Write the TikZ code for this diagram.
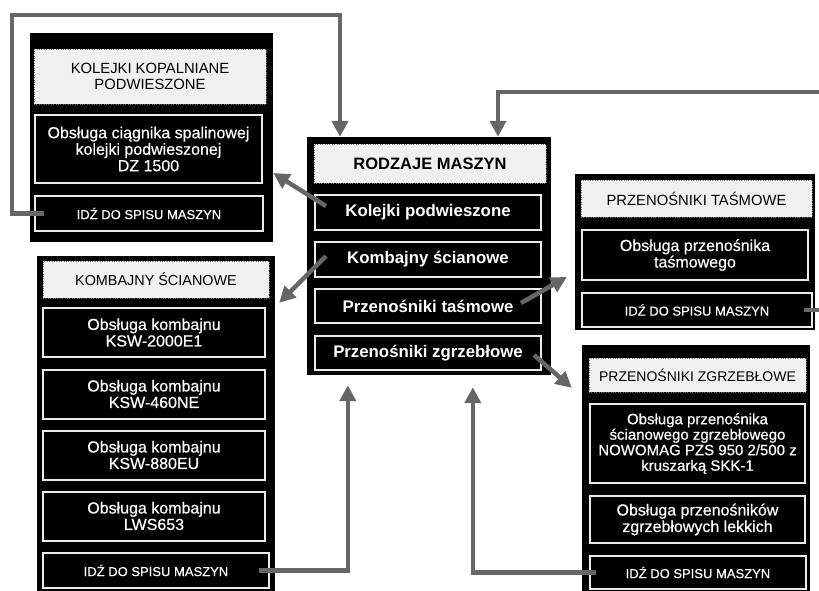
\documentclass[tikz,border=0pt]{standalone}
\usepackage{fontspec}
\setmainfont{Liberation Sans}
\newfontfamily\whitefont{Liberation Sans}[FakeBold=0.5]
\usetikzlibrary{arrows.meta}

\begin{document}
\begin{tikzpicture}[x=1pt, y=-1pt,
    panel/.style={fill=black, inner sep=0pt},
    head/.style={draw=black!55, dotted, fill=black!6, text=black, inner sep=0pt,
        align=center, font=\fontsize{14.8}{16}\selectfont},
    item/.style={draw=black!8, line width=2pt, fill=black, text=white, inner sep=0pt,
        align=center, font=\whitefont\fontsize{16}{16.5}\selectfont},
    menu/.style={item, font=\bfseries\fontsize{16.8}{18}\selectfont},
    back/.style={item, font=\whitefont\fontsize{13}{14}\selectfont},
    link/.style={draw=black!60, line width=4.5pt, -{Triangle[width=16pt,length=16pt]}}]
        \path[use as bounding box] (0,0) rectangle (819,590);
        \clip (0,0) rectangle (819,590);
        %
        % kolejki podwieszone
        \node[panel, minimum width=243pt, minimum height=209pt] (kolejki) at (151.5,137.5) {};
        \node[head, minimum width=232pt, minimum height=55pt] (kolejkiHead) at (150,76.5) {KOLEJKI KOPALNIANE\\PODWIESZONE};
        \node[item, minimum width=227pt, minimum height=68pt] (kolejkiA) at (148.5,149) {Obsługa ciągnika spalinowej\\kolejki podwieszonej\\DZ 1500};
        \node[back, minimum width=228pt, minimum height=35pt] (kolejkiBack) at (149,213.5) {IDŹ DO SPISU MASZYN};
        %
        % rodzaje maszyn
        \node[panel, minimum width=244pt, minimum height=238pt] (rodzaje) at (429,256) {};
        \node[head, font=\bfseries\fontsize{16.5}{18}\selectfont, minimum width=232pt, minimum height=39pt] (rodzajeHead) at (430,163.5) {RODZAJE MASZYN};
        \node[menu, minimum width=226pt, minimum height=35pt] (menuKolejki) at (428,212.5) {Kolejki podwieszone};
        \node[menu, minimum width=226pt, minimum height=35pt] (menuKombajny) at (428,259.5) {Kombajny ścianowe};
        \node[menu, minimum width=226pt, minimum height=34pt] (menuTasmowe) at (428,306) {Przenośniki taśmowe};
        \node[menu, minimum width=226pt, minimum height=34pt] (menuZgrzeblowe) at (428,353) {Przenośniki zgrzebłowe};
        %
        % kombajny scianowe
        \node[panel, minimum width=238pt, minimum height=340pt] (kombajny) at (156,426) {};
        \node[head, font=\fontsize{14.4}{16}\selectfont, minimum width=226pt, minimum height=37pt] (kombajnyHead) at (156,279.5) {KOMBAJNY ŚCIANOWE};
        \node[item, minimum width=222pt, minimum height=49pt] (kombajnyA) at (154,332.5) {Obsługa kombajnu\\KSW-2000E1};
        \node[item, minimum width=222pt, minimum height=49pt] (kombajnyB) at (154,394) {Obsługa kombajnu\\KSW-460NE};
        \node[item, minimum width=222pt, minimum height=49pt] (kombajnyC) at (154,455) {Obsługa kombajnu\\KSW-880EU};
        \node[item, minimum width=222pt, minimum height=49pt] (kombajnyD) at (154,516) {Obsługa kombajnu\\LWS653};
        \node[back, minimum width=226pt, minimum height=35pt] (kombajnyBack) at (156,570.5) {IDŹ DO SPISU MASZYN};
        %
        % przenosniki tasmowe
        \node[panel, minimum width=240pt, minimum height=156pt] (tasmowe) at (695,252) {};
        \node[head, minimum width=231pt, minimum height=37pt] (tasmoweHead) at (696.5,198.5) {PRZENOŚNIKI TAŚMOWE};
        \node[item, minimum width=226pt, minimum height=50pt] (tasmoweA) at (695,255) {Obsługa przenośnika\\taśmowego};
        \node[back, minimum width=230pt, minimum height=34pt] (tasmoweBack) at (697,310) {IDŹ DO SPISU MASZYN};
        %
        % przenosniki zgrzeblowe
        \node[panel, minimum width=228pt, minimum height=251pt] (zgrzeblowe) at (696,470.5) {};
        \node[head, font=\fontsize{14}{16}\selectfont, minimum width=217pt, minimum height=34pt] (zgrzebloweHead) at (697.5,375) {PRZENOŚNIKI ZGRZEBŁOWE};
        \node[item, font=\whitefont\fontsize{15}{15.5}\selectfont, minimum width=215pt, minimum height=79pt] (zgrzebloweA) at (697.5,443.5) {Obsługa przenośnika\\ścianowego zgrzebłowego\\NOWOMAG PZS 950 2/500 z\\kruszarką SKK-1};
        \node[item, minimum width=215pt, minimum height=47pt] (zgrzebloweB) at (697.5,519.5) {Obsługa przenośników\\zgrzebłowych lekkich};
        \node[back, minimum width=216pt, minimum height=33pt] (zgrzebloweBack) at (698,572.5) {IDŹ DO SPISU MASZYN};
        %
        % polaczenia
        \draw[link] ([shift={(12,-6.5)}]menuKolejki.west) -- ([shift={(0,35.5)}]kolejki.east);
        \draw[link] ([shift={(12,-3.5)}]menuKombajny.west) -- ([shift={(4,47)}]kombajny.north east);
        \draw[link] ([shift={(-21,-3)}]menuTasmowe.east) -- ([shift={(-8,25)}]tasmowe.west);
        \draw[link] ([shift={(-8,2)}]menuZgrzeblowe.east) -- ([shift={(-10,43)}]zgrzeblowe.north west);
        \draw[link] ([xshift=10pt]kolejkiBack.west) -| (12,15) -| ([xshift=-89pt]rodzaje.north);
        \draw[link] ([xshift=-9pt]tasmoweBack.east) -- (840,310) |- (498,92) -- ([xshift=69pt]rodzaje.north);
        \draw[link] ([xshift=-11pt]kombajnyBack.east) -| ([shift={(41,10)}]rodzaje.south west);
        \draw[link] ([xshift=7pt]zgrzebloweBack.west) -| ([shift={(166,12)}]rodzaje.south west);
        \end{tikzpicture}
\end{document}
